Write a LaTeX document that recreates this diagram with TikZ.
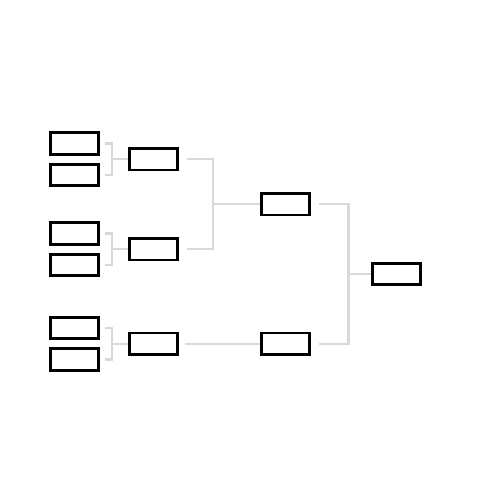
\documentclass[tikz,border=0pt]{standalone}
\usepackage{tikz}
\usetikzlibrary{positioning}
\usetikzlibrary{calc}

\begin{document}
\begin{tikzpicture}[node distance=1cm, on grid,
       box/.style={draw, line width=1.6pt, minimum width=0.96cm, minimum height=0.43cm, inner sep=0pt},
       link/.style={draw=black!15, line width=1.3pt}]

       \useasboundingbox (0,0) rectangle (10,-10);

       \node[box] at (1.494,-2.87) (s1) {};
       \node[box, below=0.63 of s1] (s2) {};
       \node[box, below=1.17 of s2] (s3) {};
       \node[box, below=0.63 of s3] (s4) {};
       \node[box, below=1.26 of s4] (s5) {};
       \node[box, below=0.63 of s5] (s6) {};

       \node[box] at ($(s1)!.5!(s2)+(1.572,0)$) (r1) {};
       \node[box] at ($(s3)!.5!(s4)+(1.572,0)$) (r2) {};
       \node[box] at ($(s5)!.5!(s6)+(1.572,0)$) (r3) {};

       \node[box] at ($(r1)!.5!(r2)+(2.648,0)$) (q1) {};
       \node[box, right=2.648 of r3] (q2) {};

       \node[box] at ($(q1)!.5!(q2)+(2.22,0)$) (final) {};

       \coordinate[left=0.312 of r1.west] (j1);
       \coordinate[left=0.312 of r2.west] (j2);
       \coordinate[left=0.312 of r3.west] (j3);
       \coordinate[left=0.948 of q1.west] (j4);
       \coordinate[left=0.454 of final.west] (j5);

       \draw[link, shorten <=0.09cm, shorten >=0.09cm] (s1) -| (j1) |- (s2);
       \draw[link] (j1) -- (r1);
       \draw[link, shorten <=0.09cm, shorten >=0.09cm] (s3) -| (j2) |- (s4);
       \draw[link] (j2) -- (r2);
       \draw[link, shorten <=0.09cm, shorten >=0.09cm] (s5) -| (j3) |- (s6);
       \draw[link] (j3) -- (r3);

       \draw[link, shorten <=0.16cm, shorten >=0.16cm] (r1) -| (j4) |- (r2);
       \draw[link] (j4) -- (q1);
       \draw[link, shorten <=0.12cm] (r3) -- (q2);

       \draw[link, shorten <=0.16cm, shorten >=0.16cm] (q1) -| (j5) |- (q2);
       \draw[link] (j5) -- (final);

\end{tikzpicture}
\end{document}
